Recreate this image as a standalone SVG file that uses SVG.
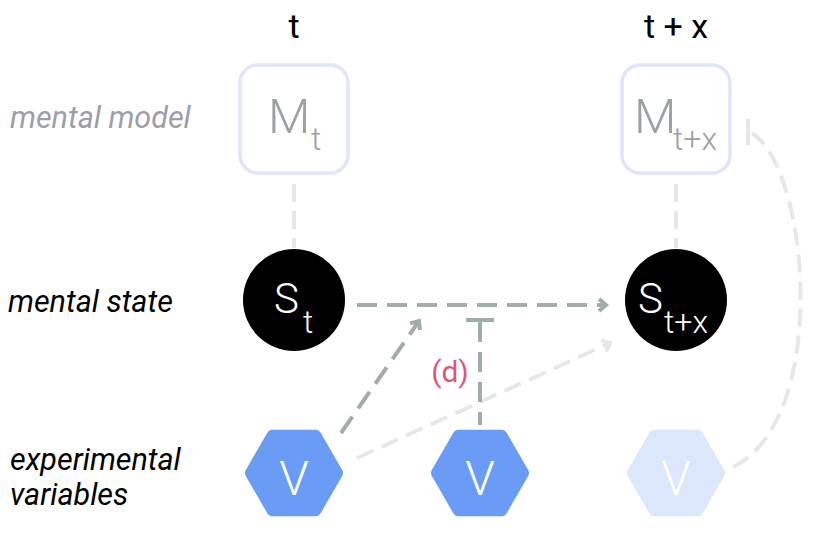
<svg xmlns="http://www.w3.org/2000/svg" width="830" height="533" viewBox="0 0 830 533">
<defs>
<style>
text{font-family:Roboto,"Liberation Sans",sans-serif;}
.hdr{font-size:34px;fill:#000;text-anchor:middle;}
.row{font-size:30.5px;font-style:italic;}
.mbox{fill:#fff;stroke:#dce6fc;stroke-width:3.5;}
.mtxt{fill:#9aa0a6;font-weight:300;}
.snode{fill:#000;}
.stxt{fill:#fff;font-weight:300;}
.vtxt{fill:#fff;font-size:48px;text-anchor:middle;font-weight:300;}
.dk{fill:none;stroke:#a0adaa;stroke-width:4;stroke-dasharray:20 10;}
.lt{fill:none;stroke:#e4e9e7;stroke-width:4;stroke-dasharray:18 9;}
.hx{stroke-width:12;stroke-linejoin:round;}
</style>
<marker id="ahd" markerUnits="userSpaceOnUse" markerWidth="16" markerHeight="16" refX="10" refY="8" orient="auto">
<path d="M3,2 L10,8 L3,14" fill="none" stroke="#a0adaa" stroke-width="4"/>
</marker>
<marker id="ahl" markerUnits="userSpaceOnUse" markerWidth="16" markerHeight="16" refX="10" refY="8" orient="auto">
<path d="M3,2 L10,8 L3,14" fill="none" stroke="#e4e9e7" stroke-width="4"/>
</marker>
<polygon id="hex" points="43,0 21.5,37.2 -21.5,37.2 -43,0 -21.5,-37.2 21.5,-37.2"/>
</defs>

<g id="headers">
<text class="hdr" x="294" y="38">t</text>
<text class="hdr" x="676" y="38">t + x</text>
</g>
<g id="row-labels">
<text class="row" x="10" y="128" fill="#9aa0a6">mental model</text>
<text class="row" x="8" y="312" fill="#000">mental state</text>
<text class="row" x="10" y="470" fill="#000">experimental</text>
<text class="row" x="10" y="505" fill="#000">variables</text>
</g>

<g id="connectors">
<line class="lt" x1="294" y1="184" x2="294" y2="248"/>
<line class="lt" x1="676" y1="184" x2="676" y2="248"/>
<line class="dk" x1="357" y1="305" x2="606" y2="305" marker-end="url(#ahd)"/>
<line class="dk" x1="341" y1="433" x2="419" y2="321" marker-end="url(#ahd)"/>
<line class="lt" x1="357" y1="458" x2="610" y2="343" marker-end="url(#ahl)"/>
<line class="dk" x1="480" y1="322" x2="480" y2="425"/>
<line x1="466" y1="320" x2="494" y2="320" stroke="#a0adaa" stroke-width="4"/>
<path class="lt" d="M733,467 C830,420 810,170 752,133"/>
<line x1="748" y1="119" x2="748" y2="145" stroke="#e4e9e7" stroke-width="4"/>
<text x="450" y="382" font-size="30" fill="#e05476" text-anchor="middle">(d)</text>
</g>

<g id="M_t">
<rect class="mbox" x="240" y="65" width="108" height="108" rx="18"/>
<text class="mtxt" x="268" y="133" font-size="49">M</text>
<text class="mtxt" x="311" y="150" font-size="32">t</text>
</g>
<g id="M_tx">
<rect class="mbox" x="622" y="65" width="108" height="108" rx="18"/>
<text class="mtxt" x="634" y="133" font-size="49">M</text>
<text class="mtxt" x="673" y="150" font-size="32">t+x</text>
</g>
<g id="S_t">
<circle class="snode" cx="294" cy="300" r="51"/>
<text class="stxt" x="274" y="313" font-size="42">S</text>
<text class="stxt" x="303" y="333" font-size="32">t</text>
</g>
<g id="S_tx">
<circle class="snode" cx="676" cy="300" r="51"/>
<text class="stxt" x="638" y="313" font-size="42">S</text>
<text class="stxt" x="664" y="333" font-size="32">t+x</text>
</g>
<g id="V1">
<use href="#hex" class="hx" x="294" y="473" fill="#6a9cf5" stroke="#6a9cf5"/>
<text class="vtxt" x="294" y="495">V</text>
</g>
<g id="V2">
<use href="#hex" class="hx" x="480" y="473" fill="#6a9cf5" stroke="#6a9cf5"/>
<text class="vtxt" x="480" y="495">V</text>
</g>
<g id="V3">
<use href="#hex" class="hx" x="676" y="473" fill="#dce6fc" stroke="#dce6fc"/>
<text class="vtxt" x="676" y="495">V</text>
</g>
</svg>
